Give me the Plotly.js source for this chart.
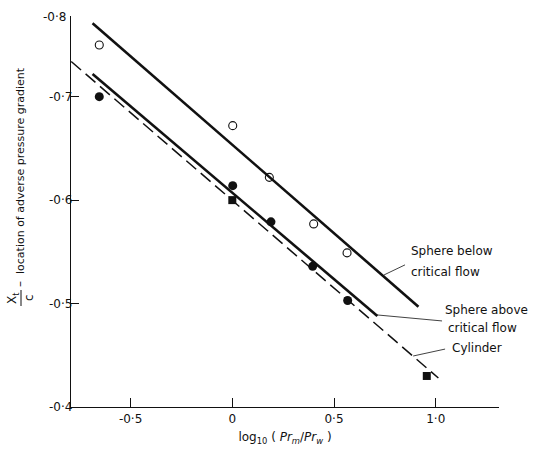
<!DOCTYPE html>
<html>
<head>
<meta charset="utf-8">
<script src="https://cdn.plot.ly/plotly-3.0.1.min.js"></script>
<style>html,body{margin:0;padding:0;background:#fff;}#chart{width:538px;height:450px;}</style>
</head>
<body>
<div id="chart"></div>
<script>
// Sphere below critical flow (open circles)
const belowX = [-0.654, 0.002, 0.182, 0.400, 0.564];
const belowY = [-0.750, -0.672, -0.622, -0.577, -0.549];
// Sphere above critical flow (filled circles)
const aboveX = [-0.654, 0.002, 0.190, 0.395, 0.567];
const aboveY = [-0.700, -0.614, -0.579, -0.536, -0.503];
// Cylinder (filled squares)
const cylX = [0.0, 0.956];
const cylY = [-0.600, -0.430];
// Fitted lines (end points)
const lineBelowX = [-0.687, 0.915];
const lineBelowY = [-0.771, -0.497];
const lineAboveX = [-0.687, 0.713];
const lineAboveY = [-0.722, -0.488];
const lineCylX = [-0.792, 1.013];
const lineCylY = [-0.734, -0.428];
// Tick labels
const xTickVals = [-0.5, 0, 0.5, 1.0];
const xTickText = ['-0·5', '0', '0·5', '1·0'];
const yTickVals = [-0.7, -0.6, -0.5, -0.4];
const yTickText = ['-0·7', '-0·6', '-0·5', '-0·4'];
// Leader lines from labels to curves
const leaderBelowX = [0.746, 0.849];
const leaderBelowY = [-0.5277, -0.5374];
const leaderAboveX = [0.712, 1.031];
const leaderAboveY = [-0.489, -0.4832];
const leaderCylX = [0.889, 1.046];
const leaderCylY = [-0.4493, -0.456];

const FONT = 'DejaVu Sans, sans-serif';
const black = '#111';

const traces = [
  {x: lineBelowX, y: lineBelowY, mode: 'lines', line: {color: black, width: 2.6}, hoverinfo: 'skip'},
  {x: lineAboveX, y: lineAboveY, mode: 'lines', line: {color: black, width: 2.6}, hoverinfo: 'skip'},
  {x: lineCylX, y: lineCylY, mode: 'lines', line: {color: black, width: 1.5, dash: '13px,6px'}, hoverinfo: 'skip'},
  {x: leaderBelowX, y: leaderBelowY, mode: 'lines', line: {color: black, width: 0.8}, hoverinfo: 'skip'},
  {x: leaderAboveX, y: leaderAboveY, mode: 'lines', line: {color: black, width: 0.8}, hoverinfo: 'skip'},
  {x: leaderCylX, y: leaderCylY, mode: 'lines', line: {color: black, width: 0.8}, hoverinfo: 'skip'},
  {x: belowX, y: belowY, mode: 'markers', name: 'Sphere below critical flow',
   marker: {symbol: 'circle-open', size: 8, color: black, line: {width: 1.1, color: black}}},
  {x: aboveX, y: aboveY, mode: 'markers', name: 'Sphere above critical flow',
   marker: {symbol: 'circle', size: 9, color: black}},
  {x: cylX, y: cylY, mode: 'markers', name: 'Cylinder',
   marker: {symbol: 'square', size: 8, color: black}}
];

function ann(text, x, y, opts) {
  return Object.assign({text: text, x: x, y: y, xref: 'x', yref: 'y', showarrow: false,
    xanchor: 'left', yanchor: 'middle', font: {family: FONT, size: 12, color: black}}, opts || {});
}
function pann(text, px, py, opts) {
  return Object.assign({text: text, x: (px - 71) / 428, y: (407 - py) / 391, xref: 'paper', yref: 'paper',
    showarrow: false, xanchor: 'center', yanchor: 'middle', font: {family: FONT, size: 12, color: black}}, opts || {});
}

const layout = {
  width: 538, height: 450,
  margin: {l: 71, r: 39, t: 16, b: 43},
  paper_bgcolor: '#fff', plot_bgcolor: '#fff',
  showlegend: false,
  font: {family: FONT, size: 12, color: black},
  xaxis: {
    range: [-0.793, 1.311], tickvals: xTickVals, ticktext: xTickText,
    ticks: 'inside', ticklen: 9, tickwidth: 1, tickcolor: black,
    showline: true, linecolor: black, linewidth: 1.2, showgrid: false, zeroline: false,
    tickfont: {family: FONT, size: 12, color: black},
    title: {text: 'log<sub>10</sub> ( <i>Pr<sub>m</sub></i>/<i>Pr<sub>w</sub></i> )', font: {family: FONT, size: 12, color: black}, standoff: 8}
  },
  yaxis: {
    range: [-0.4, -0.778], tickvals: yTickVals, ticktext: yTickText,
    ticks: 'inside', ticklen: 8, tickwidth: 1, tickcolor: black,
    ticklabelstandoff: -5,
    showline: true, linecolor: black, linewidth: 1.2, showgrid: false, zeroline: false,
    tickfont: {family: FONT, size: 12, color: black}
  },
  annotations: [
    ann('Sphere below', 0.870, -0.5509),
    ann('critical flow', 0.870, -0.5306),
    ann('Sphere above', 1.038, -0.4938),
    ann('critical flow', 1.052, -0.4764),
    ann('Cylinder', 1.068, -0.457),
    pann('-0·8', 68, 17, {xanchor: 'right'}),
    pann('X<sub>t</sub>', 13, 298, {textangle: -90}),
    pann('c', 29, 298, {textangle: -90}),
    pann('–', 20, 284, {textangle: -90}),
    pann('location of adverse pressure gradient', 20, 171, {textangle: -90, font: {family: FONT, size: 11, color: black}})
  ],
  shapes: [
    {type: 'line', xref: 'paper', yref: 'paper', x0: (21 - 71) / 428, x1: (21 - 71) / 428,
     y0: (407 - 290) / 391, y1: (407 - 306) / 391, line: {color: black, width: 1}}
  ]
};

Plotly.newPlot('chart', traces, layout, {staticPlot: true, displayModeBar: false});
</script>
</body>
</html>
